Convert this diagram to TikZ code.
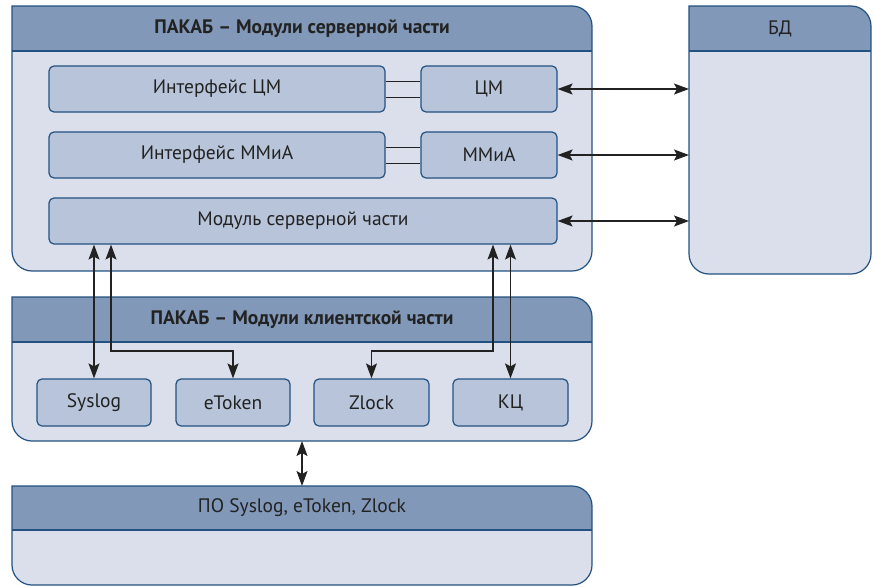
\documentclass[tikz,border=0pt]{standalone}
\usepackage{fontspec}
\setmainfont{PT Sans}
\usetikzlibrary{arrows.meta}
\definecolor{hdr}{HTML}{8198B8}
\definecolor{bodyc}{HTML}{DADFEB}
\definecolor{innerc}{HTML}{B8C4DA}
\definecolor{edge}{HTML}{235180}
\definecolor{ink}{HTML}{222222}
\tikzset{
  inbox/.style={draw=edge, line width=1.2pt, fill=innerc, rounded corners=5pt, inner sep=0pt, text=ink, font=\fontsize{19.5}{23}\selectfont},
  hole/.style={inner sep=0pt, outer sep=0pt},
  conn/.style={draw=ink, line width=1.2pt, {Stealth[length=15pt,width=11pt,inset=3pt]}-{Stealth[length=15pt,width=11pt,inset=3pt]}},
  dbl/.style={draw=ink, line width=1pt},
  hdrtext/.style={text=ink, font=\fontsize{19.5}{23}\selectfont},
}
% big container: #1 name, #2 x1, #3 top, #4 x2, #5 bottom, #6 header line, #7 title
\newcommand{\pkbox}[7]{%
  \node[hole, minimum width=#4pt-#2pt, minimum height=#5pt-#3pt] (#1) at ({(#2+#4)/2},{-(#3+#5)/2}) {};
  \begin{scope}
    \clip (#2,-#3) -- (#4-20,-#3) arc[start angle=90,end angle=0,radius=20] -- (#4,-#5+20) arc[start angle=0,end angle=-90,radius=20] -- (#2+20,-#5) arc[start angle=270,end angle=180,radius=20] -- cycle;
    \fill[bodyc] (#2,-#3) rectangle (#4,-#5);
    \fill[hdr] (#2,-#3) rectangle (#4,-#6);
  \end{scope}
  \draw[edge, line width=1.2pt] (#2,-#3) -- (#4-20,-#3) arc[start angle=90,end angle=0,radius=20] -- (#4,-#5+20) arc[start angle=0,end angle=-90,radius=20] -- (#2+20,-#5) arc[start angle=270,end angle=180,radius=20] -- cycle;
  \draw[edge, line width=1.2pt] (#2,-#6) -- (#4,-#6);
  \node[hdrtext] (#1t) at ({(#2+#4)/2},{-(#3+#6)/2}) {#7};
}
\begin{document}
\begin{tikzpicture}[x=1pt,y=1pt]
\useasboundingbox (0,0) rectangle (874,-586);
\pkbox{server}{12}{6}{592}{271}{51}{\textbf{ПАКАБ – Модули серверной части}}
\pkbox{bd}{689}{6}{871}{274}{51}{БД}
\pkbox{client}{12}{297}{592}{441}{342}{\textbf{ПАКАБ – Модули клиентской части}}
\pkbox{po}{12}{486}{592}{585}{530}{ПО Syslog, eToken, Zlock}

\node[inbox, minimum width=336pt, minimum height=46pt] (icm) at (217,-89) {Интерфейс ЦМ};
\node[inbox, minimum width=136pt, minimum height=46pt] (cm) at (489,-89) {ЦМ};
\node[inbox, minimum width=336pt, minimum height=46pt] (imm) at (217,-155) {Интерфейс ММиА};
\node[inbox, minimum width=136pt, minimum height=46pt] (mm) at (489,-155) {ММиА};
\node[inbox, minimum width=508pt, minimum height=46pt] (serv) at (303,-221) {Модуль серверной части};

\node[inbox, minimum width=114pt, minimum height=47pt] (syslog) at (94,-402.5) {Syslog};
\node[inbox, minimum width=114pt, minimum height=47pt] (etoken) at (233,-402.5) {eToken};
\node[inbox, minimum width=115pt, minimum height=47pt] (zlock) at (371.5,-402.5) {Zlock};
\node[inbox, minimum width=115pt, minimum height=47pt] (kc) at (510.5,-402.5) {КЦ};

\draw[dbl] ([yshift=8pt]icm.east) -- ([yshift=8pt]icm.east -| cm.west);
\draw[dbl] ([yshift=-8pt]icm.east) -- ([yshift=-8pt]icm.east -| cm.west);
\draw[dbl] ([yshift=8pt]imm.east) -- ([yshift=8pt]imm.east -| mm.west);
\draw[dbl] ([yshift=-8pt]imm.east) -- ([yshift=-8pt]imm.east -| mm.west);

\draw[conn] (cm.east) -- (cm.east -| bd.west);
\draw[conn] (mm.east) -- (mm.east -| bd.west);
\draw[conn] (serv.east) -- (serv.east -| bd.west);

\coordinate (ebend) at (111,-351);
\coordinate (zbend) at (493,-351);
\draw[conn] (syslog.north |- serv.south) -- (syslog.north);
\draw[conn] (ebend |- serv.south) -- (ebend) -| (etoken.north);
\draw[conn] (zbend |- serv.south) -- (zbend) -| (zlock.north);
\draw[conn] (kc.north |- serv.south) -- (kc.north);
\draw[conn] (client.south) -- (po.north);
\end{tikzpicture}
\end{document}
